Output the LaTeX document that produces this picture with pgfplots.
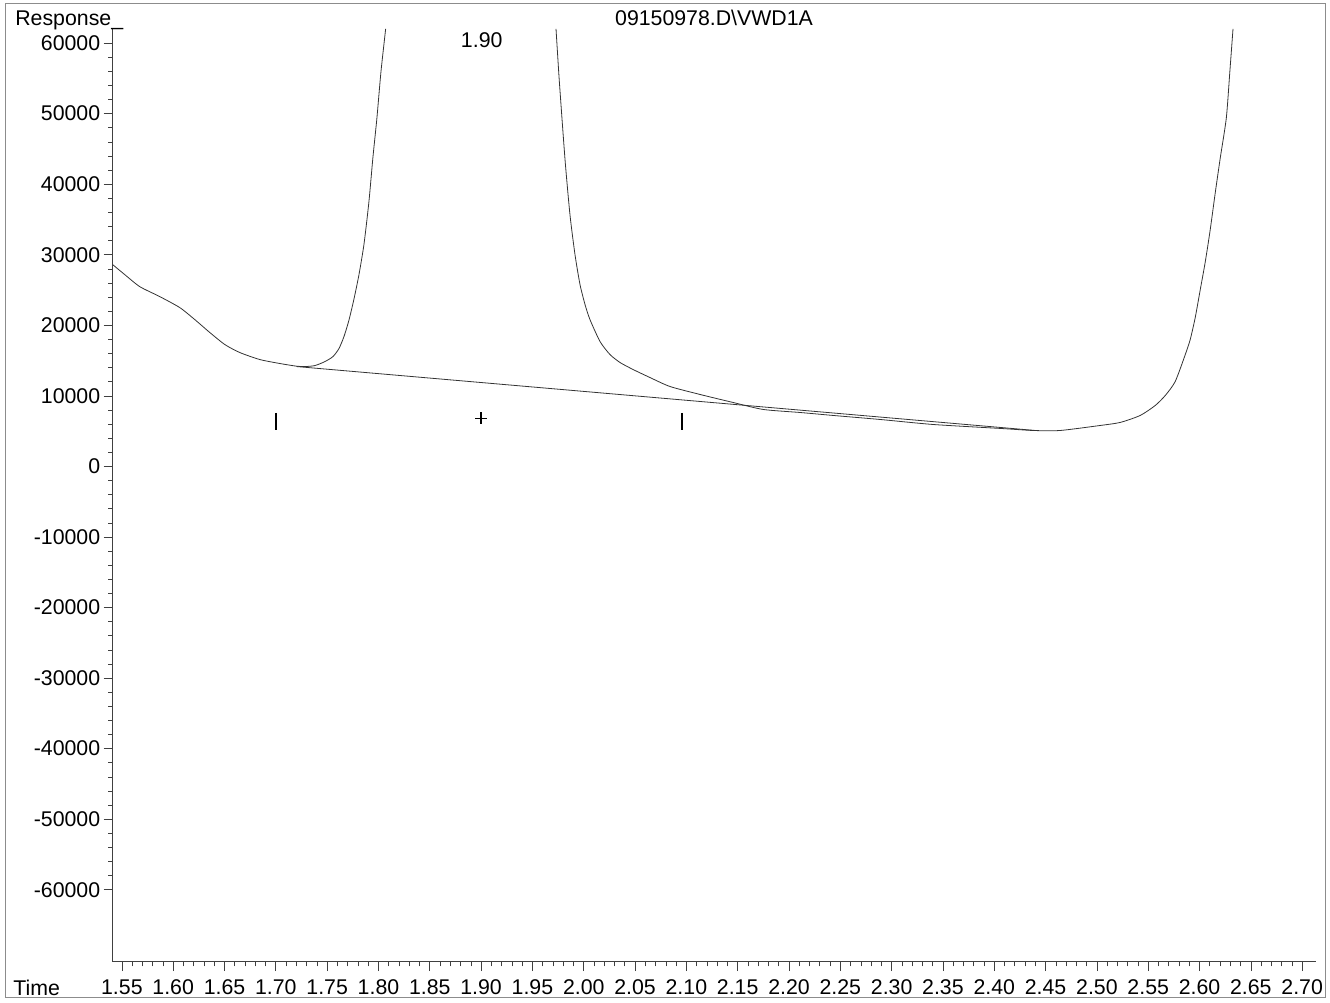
\documentclass[border=0pt]{standalone}
\usepackage{pgfplots}
\pgfplotsset{compat=1.18}
\usepackage{fontspec}
\setmainfont{Liberation Sans}
\begin{document}
\fontsize{16}{19}\selectfont
\begin{tikzpicture}
\path (-84.75pt,-29.25pt) rectangle (912.75pt,722.25pt);
\draw[black!45, line width=0.6pt] (-81pt,-27pt) rectangle (910.5pt,720pt);
\begin{axis}[
  scale only axis,
  width=903.75pt, height=700.5pt,
  xmin=1.5412, xmax=2.7137,
  ymin=-70200, ymax=62000,
  scaled y ticks=false, scaled x ticks=false,
  axis x line*=bottom, axis y line*=left,
  axis line style={black!75, line width=0.6pt},
  xtick={1.55,1.60,1.65,1.70,1.75,1.80,1.85,1.90,1.95,2.00,2.05,2.10,2.15,2.20,2.25,2.30,2.35,2.40,2.45,2.50,2.55,2.60,2.65,2.70},
  xticklabels={1.55,1.60,1.65,1.70,1.75,1.80,1.85,1.90,1.95,2.00,2.05,2.10,2.15,2.20,2.25,2.30,2.35,2.40,2.45,2.50,2.55,2.60,2.65,2.70},
  ytick={-60000,-50000,-40000,-30000,-20000,-10000,0,10000,20000,30000,40000,50000,60000},
  yticklabels={-60000,-50000,-40000,-30000,-20000,-10000,0,10000,20000,30000,40000,50000,60000},
  minor x tick num=4, minor y tick num=4,
  tick align=outside,
  major tick length=7pt, minor tick length=3.5pt,
  tick style={black!75, line width=0.5pt},
  ticklabel style={font=\fontsize{16}{19}\selectfont, text=black},
  xticklabel style={yshift=-1pt},
  yticklabel style={xshift=3pt},
]
% main chromatogram trace
\addplot[black!80, line width=0.6pt, smooth, tension=0.4] coordinates {
(1.5412,28580) (1.5529,27170) (1.5675,25470) (1.5870,24060) (1.6065,22500)
(1.6211,20800) (1.6358,18960) (1.6504,17260) (1.6650,16130) (1.6845,15140)
(1.7040,14580) (1.7203,14200) (1.7284,14150) (1.7381,14290) (1.7479,14860)
(1.7557,15570) (1.7615,16700) (1.7664,18400) (1.7712,20700) (1.7761,23700)
(1.7810,27170) (1.7859,31500) (1.7907,37500) (1.7946,43800) (1.7985,49390)
(1.8024,55890) (1.8070,62000)
};
\addplot[black!80, line width=0.6pt, smooth, tension=0.4] coordinates {
(1.9730,62000) (1.9762,54630) (1.9818,43440) (1.9866,35660) (1.9915,30000)
(1.9964,25750) (2.0013,22920) (2.0061,20800) (2.0159,17690) (2.0256,15850)
(2.0354,14720) (2.0481,13730) (2.0646,12590) (2.0841,11320) (2.1134,10190)
(2.1455,9060) (2.1748,8070) (2.2108,7640) (2.2430,7220) (2.2888,6650)
(2.3404,5940) (2.4058,5380) (2.4379,5090) (2.4642,5090) (2.5032,5800)
(2.5227,6230) (2.5422,7220) (2.5568,8630) (2.5666,10050) (2.5763,12030)
(2.5861,15850) (2.5909,17970) (2.5958,21090) (2.6007,25050) (2.6056,29010)
(2.6104,33540) (2.6153,38770) (2.6202,43730) (2.6261,49390) (2.6295,55900)
(2.6326,62000)
};
% integration baseline
\addplot[black!80, line width=0.6pt] coordinates {(1.7203,14150) (2.4400,5090)};
% peak start/end markers and apex marker
\addplot[only marks, mark=|, mark size=6.5pt, mark options={line width=1.2pt, black}] coordinates {(1.70,6370) (2.096,6370)};
\addplot[only marks, mark=+, mark size=4.5pt, mark options={line width=1.4pt, black}] coordinates {(1.90,6790)};
\node[anchor=base, font=\fontsize{16}{19}\selectfont] at (axis cs:1.9006,59300) {1.90};
\end{axis}
\node[anchor=base west] at (-78.75pt,703pt) {Response\_};
\node[anchor=base] at (451.5pt,703pt) {09150978.D\textbackslash VWD1A};
\node[anchor=base west] at (-80.25pt,-25.5pt) {Time};
\end{tikzpicture}
\end{document}
